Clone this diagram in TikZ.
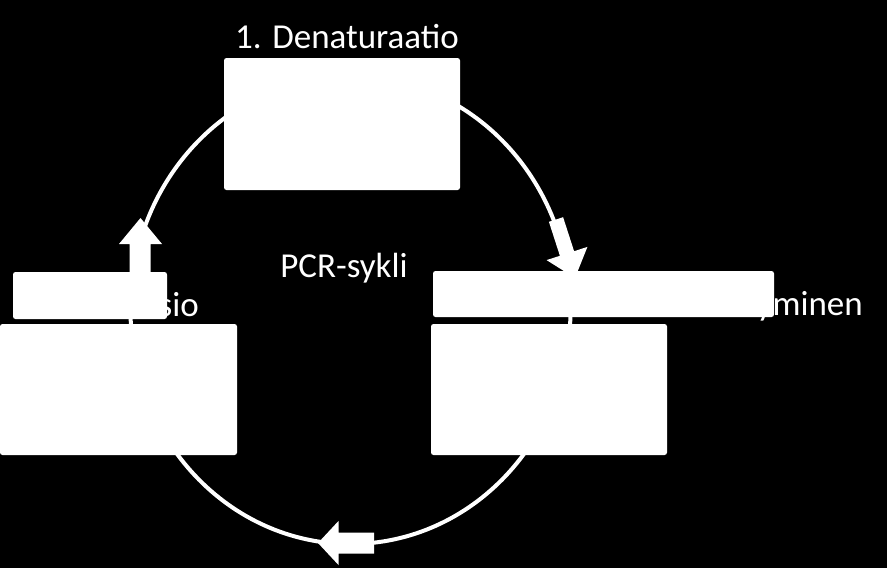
\documentclass[tikz,border=0pt]{standalone}
\usepackage{fontspec}
\setmainfont{Carlito}
\begin{document}
\begin{tikzpicture}[x=1pt,y=-1pt,
  wbox/.style={draw=none,fill=white,rounded corners=2.5pt,inner sep=0pt,outer sep=0pt},
  lbl/.style={text=white,inner sep=0pt,font=\fontsize{35pt}{42pt}\selectfont},
  ring/.style={draw=white,line width=4pt},
  blockarrow/.style={fill=white,draw=none}]
\fill[black] (0,0) rectangle (887,568);
\useasboundingbox (0,0) rectangle (887,568);
% texts
\node[lbl,anchor=base west] (t1) at (235,48) {1. Denaturaatio};
\node[lbl,anchor=base] (tc) at (344,277) {PCR-sykli};
\node[lbl,anchor=base east] (t3) at (199,316) {sio};
\node[lbl,anchor=base east] (t2) at (863,315) {yminen};
% cycle
\draw[ring] (350.5,310) ellipse [x radius=220, y radius=234];
% block arrows
\fill[blockarrow] (548.9,221.8) -- (563.1,217.2) -- (574.1,251.2) -- (587.4,246.9) -- (575,278) -- (546.6,260.1) -- (559.9,255.8) -- cycle;
\fill[blockarrow] (374,532.5) -- (374,553.5) -- (338.5,553.5) -- (338.5,565) -- (318,543) -- (338.5,521) -- (338.5,532.5) -- cycle;
\fill[blockarrow] (129.5,285) -- (150.5,285) -- (150.5,244) -- (162,244) -- (140.5,218) -- (119,244) -- (129.5,244) -- cycle;
% white boxes
\node[wbox,minimum width=236pt,minimum height=132pt] (b1) at (342,124) {};
\node[wbox,minimum width=154pt,minimum height=47pt] (c3) at (90,295.5) {};
\node[wbox,minimum width=237pt,minimum height=131pt] (b3) at (118.5,389.5) {};
\node[wbox,minimum width=341pt,minimum height=46pt] (c2) at (603.5,294) {};
\node[wbox,minimum width=236pt,minimum height=131pt] (b2) at (549,389.5) {};
\end{tikzpicture}
\end{document}
